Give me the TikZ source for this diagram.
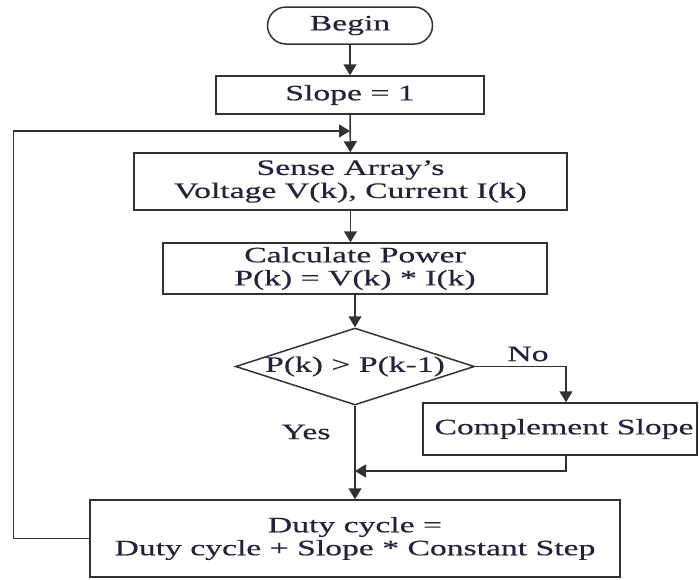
\documentclass[tikz,border=0pt]{standalone}
\usepackage{fontspec}
\setmainfont{Liberation Serif}[FakeStretch=1.53,FakeBold=0.4]
\usetikzlibrary{arrows.meta,shapes.geometric,calc}
\definecolor{linecol}{RGB}{50,50,54}
\definecolor{txtcol}{RGB}{34,34,56}
\tikzset{
  base/.style={draw=linecol, line width=1.5pt, inner sep=0pt, align=center,
    text=txtcol, font=\fontsize{22}{23}\selectfont},
  procbox/.style={base, rectangle},
  termbox/.style={base, rectangle, rounded corners=18.5pt},
  decision/.style={base, diamond},
  lbl/.style={text=txtcol, inner sep=0pt, font=\fontsize{22}{23}\selectfont},
  arr/.style={draw=linecol, line width=1.5pt, -{Triangle[length=11pt,width=13pt]}},
  wire/.style={draw=linecol, line width=1.5pt}
}
\begin{document}
\begin{tikzpicture}[x=1pt,y=-1pt]
\useasboundingbox (0,0) rectangle (699,579);

% flowchart blocks
\node[termbox, minimum width=165, minimum height=37] (begin) at (350,25.5) {Begin};
\node[procbox, minimum width=268, minimum height=38] (slope) at (350,95) {Slope = 1};
\node[procbox, minimum width=433, minimum height=57] (sense) at (350.5,181.5)
  {Sense Array's\\Voltage V(k), Current I(k)};
\node[procbox, minimum width=384, minimum height=51] (calc) at (355,268.5)
  {Calculate Power\\P(k) = V(k) * I(k)};
\node[decision, minimum width=239, minimum height=77] (dec) at (355,366.5) {};
\node[lbl] (dectext) at (dec.center) {P(k) > P(k-1)};
\node[procbox, minimum width=274, minimum height=52] (comp) at (560,429) {\hspace*{8pt}Complement Slope};
\node[procbox, minimum width=530, minimum height=77] (duty) at (355,538.5)
  {Duty cycle =\\Duty cycle + Slope * Constant Step};

% branch labels
\node[lbl] (nolbl) at (528,354) {No};
\node[lbl] (yeslbl) at (306,432) {Yes};

% helper points
\coordinate (back) at (350,131);
\coordinate (join) at (355,471);

% connectors
\draw[arr] (begin) -- (slope);
\draw[arr] (slope) -- (sense);
\draw[arr] (sense.south) -- (sense.south |- calc.north);
\draw[arr] (calc.south -| dec.north) -- (dec.north);
\draw[arr] (dec.south) -- (dec.south |- duty.north);
\draw[arr] (dec.east) -| ([xshift=6pt]comp.north);
\draw[arr] ([xshift=6pt]comp.south) |- (join);
\draw[arr] (duty.west) -- ++(-76,0) |- (back);
\end{tikzpicture}
\end{document}
